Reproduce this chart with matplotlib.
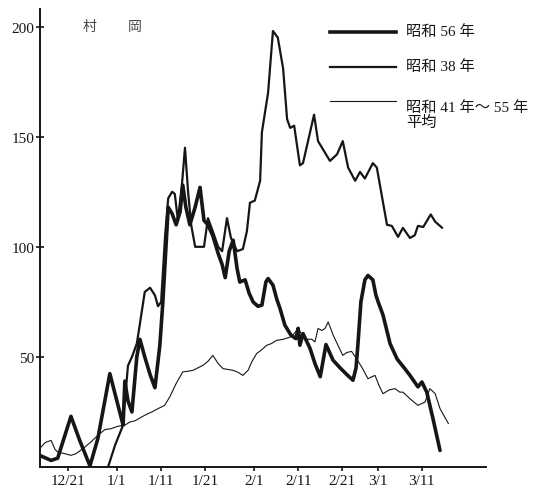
import matplotlib
matplotlib.use("Agg")
import matplotlib.pyplot as plt
from matplotlib.lines import Line2D

# ---- DATA (days counted from Dec 21, snow depth in cm) ----
tick_days = [0, 11, 21, 31, 42, 52, 62, 70, 80]
tick_labels = ["12/21", "1/1", "1/11", "1/21", "2/1", "2/11", "2/21", "3/1", "3/11"]

# 昭和56年
s56_day = [-6.5, -3.9, -2.4, 0.6, 2.6, 4.9, 6.7, 9.4, 12.4, 12.8,
           13.5, 14.4, 15.5, 16.2, 17.3, 18.5, 19.6, 20.7, 21.4, 22.1,
           22.6, 23.5, 24.4, 25.3, 25.9, 26.6, 27.5, 28.7, 29.8, 30.7,
           31.6, 32.7, 33.9, 34.8, 35.5, 36.4, 37.3, 38.2, 38.8, 40.0,
           40.9, 41.8, 42.9, 43.8, 44.7, 45.2, 46.3, 47.2, 47.9, 49.0,
           50.4, 51.5, 52.0, 52.4, 53.1, 54.7, 55.8, 57.0, 58.3, 59.9,
           61.5, 63.0, 64.4, 65.1, 65.5, 66.2, 67.1, 67.8, 68.9, 69.6,
           70.1, 71.2, 72.8, 74.4, 76.0, 77.3, 79.1, 80.0, 81.1, 82.5,
           84.1]
s56_cm = [5.3, 3, 4, 23, 12, 0.5, 13, 42.4, 19, 39,
          30, 25, 50, 58, 50, 42, 36, 55, 75, 100,
          118, 115, 110, 116, 128, 118, 110, 118, 127, 112,
          110, 105, 97, 92, 86, 98, 103, 90, 84, 85,
          79, 75, 73, 73.5, 84, 85.6, 82.6, 76, 72, 64.4,
          59.8, 58.3, 63, 55.3, 60.6, 53.8, 47, 41, 55.6, 48.5,
          45, 42, 39.4, 45, 55, 75, 85, 87, 85, 78,
          75, 69, 56, 49, 45, 41.6, 36.4, 38.6, 34, 22,
          7.5]

# 昭和38年
s38_day = [9.0, 10.6, 12.2, 12.8, 13.5, 14.4, 15.5, 16.2, 17.3, 18.5,
           19.6, 20.3, 21.0, 21.9, 22.6, 23.5, 24.1, 24.8, 25.7, 26.4,
           27.1, 27.8, 28.7, 30.7, 31.6, 32.7, 33.9, 34.8, 35.9, 36.8,
           38.2, 39.5, 40.4, 41.1, 42.2, 43.4, 43.8, 45.2, 46.3, 47.4,
           48.6, 49.5, 50.2, 51.1, 52.4, 53.1, 55.6, 56.5, 59.2, 60.8,
           62.1, 63.3, 64.9, 66.0, 67.1, 68.9, 69.8, 72.1, 73.2, 74.6,
           75.7, 77.3, 78.4, 79.1, 80.3, 82.0, 83.0, 84.6]
s38_cm = [0, 10, 18, 30, 46, 50, 56, 65, 79.5, 81.4,
          78, 73, 75, 105, 122, 125, 124, 112, 128, 145,
          125, 110, 100, 100, 113, 107, 100, 98, 113, 104,
          98, 99, 107, 120, 121, 130, 152, 170, 198, 195,
          181, 158, 154, 155, 137, 138, 160, 148, 139, 142,
          148, 136, 130, 134, 131, 138, 136, 110, 109.5, 104.5,
          108.6, 104, 105.3, 109.5, 109, 114.7, 111.4, 108.6]

# 昭和41年～55年 平均
avg_day = [-6.5, -5.3, -3.9, -3.0, -2.4, -0.7, 0.6, 1.7, 3.3, 4.9,
           7.1, 8.3, 9.7, 11.2, 12.8, 13.9, 15.1, 17.3, 18.9, 20.3,
           21.8, 23.0, 24.4, 25.9, 27.1, 28.2, 29.3, 30.5, 31.6, 32.7,
           33.9, 35.0, 36.1, 37.3, 38.4, 39.5, 40.7, 41.5, 42.6, 43.6,
           44.9, 45.9, 47.1, 48.6, 50.2, 51.3, 52.0, 52.9, 54.0, 55.1,
           55.8, 56.5, 57.4, 58.1, 58.8, 59.9, 61.0, 62.1, 63.0, 64.1,
           65.2, 66.5, 67.8, 68.7, 69.4, 70.3, 71.2, 72.6, 73.9, 75.0,
           75.7, 77.3, 79.1, 80.7, 81.8, 83.0, 84.1, 86.0]
avg_cm = [8.3, 11, 12.1, 8, 6.8, 6, 5.3, 6, 8.3, 11,
          15.1, 17, 17.4, 18.5, 19, 20.4, 21, 23.5, 25, 26.5,
          28, 32, 37.9, 43.2, 43.5, 43.9, 45, 46.2, 48, 50.7,
          47, 44.7, 44.3, 43.9, 43, 41.6, 44, 47.7, 51.5, 53,
          55.3, 56, 57.5, 58, 59, 61, 62.9, 60, 58, 58,
          56.8, 62.9, 62, 63, 65.9, 60, 55.3, 50.7, 52, 52.5,
          49.2, 45, 40.1, 41, 41.6, 37, 33.3, 35, 35.6, 34,
          34, 31, 28, 29.5, 35.6, 33.3, 26.5, 19.7]

series_labels = ["昭和 56 年", "昭和 38 年", "昭和 41 年～ 55 年\n平均"]
series_widths = [2.6, 1.6, 0.8]

ink = "#161616"
fonts = ["Liberation Serif", "Noto Sans CJK JP"]
plt.rcParams["font.family"] = fonts

fig = plt.figure(figsize=(5.33, 4.89), dpi=100)
ax = fig.add_axes([40 / 533, 21 / 489, 446 / 533, 458 / 489])

line_kw = dict(color=ink, solid_joinstyle="round", solid_capstyle="round")
ax.plot(avg_day, avg_cm, lw=series_widths[2], **line_kw)
ax.plot(s38_day, s38_cm, lw=series_widths[1], **line_kw)
ax.plot(s56_day, s56_cm, lw=series_widths[0], **line_kw)

ax.set_xlim(-6.4, 94.5)
ax.set_ylim(0, 208)
ax.set_xticks(tick_days)
ax.set_xticklabels(tick_labels)
ax.set_yticks([50, 100, 150, 200])

for side in ["top", "right"]:
    ax.spines[side].set_visible(False)
for side in ["left", "bottom"]:
    ax.spines[side].set_linewidth(1.4)
    ax.spines[side].set_color(ink)

ax.tick_params(axis="y", direction="inout", length=6, width=1.2, pad=1,
               labelsize=11, colors=ink)
ax.tick_params(axis="x", direction="out", length=3, width=1.2, pad=2,
               labelsize=11, colors=ink)

# station name
ax.text(0.095, 0.962, "村", transform=ax.transAxes, fontsize=10,
        color="#444444", va="center", family=fonts)
ax.text(0.196, 0.962, "岡", transform=ax.transAxes, fontsize=10,
        color="#444444", va="center", family=fonts)

# legend drawn by hand so the two-line label keeps its line on the first row
legend_rows = [33, 68, 102]
for row, label, lw in zip(legend_rows, series_labels, series_widths):
    y = 1 - row / 489
    fig.add_artist(Line2D([330 / 533, 396 / 533], [y, y], lw=lw, color=ink,
                          transform=fig.transFigure))
    fig.text(406 / 533, y + 0.001, label, fontsize=11, color=ink,
             va="top" if "\n" in label else "center", family=fonts,
             linespacing=1.05)

fig.savefig("out.png", dpi=100, facecolor="white")
